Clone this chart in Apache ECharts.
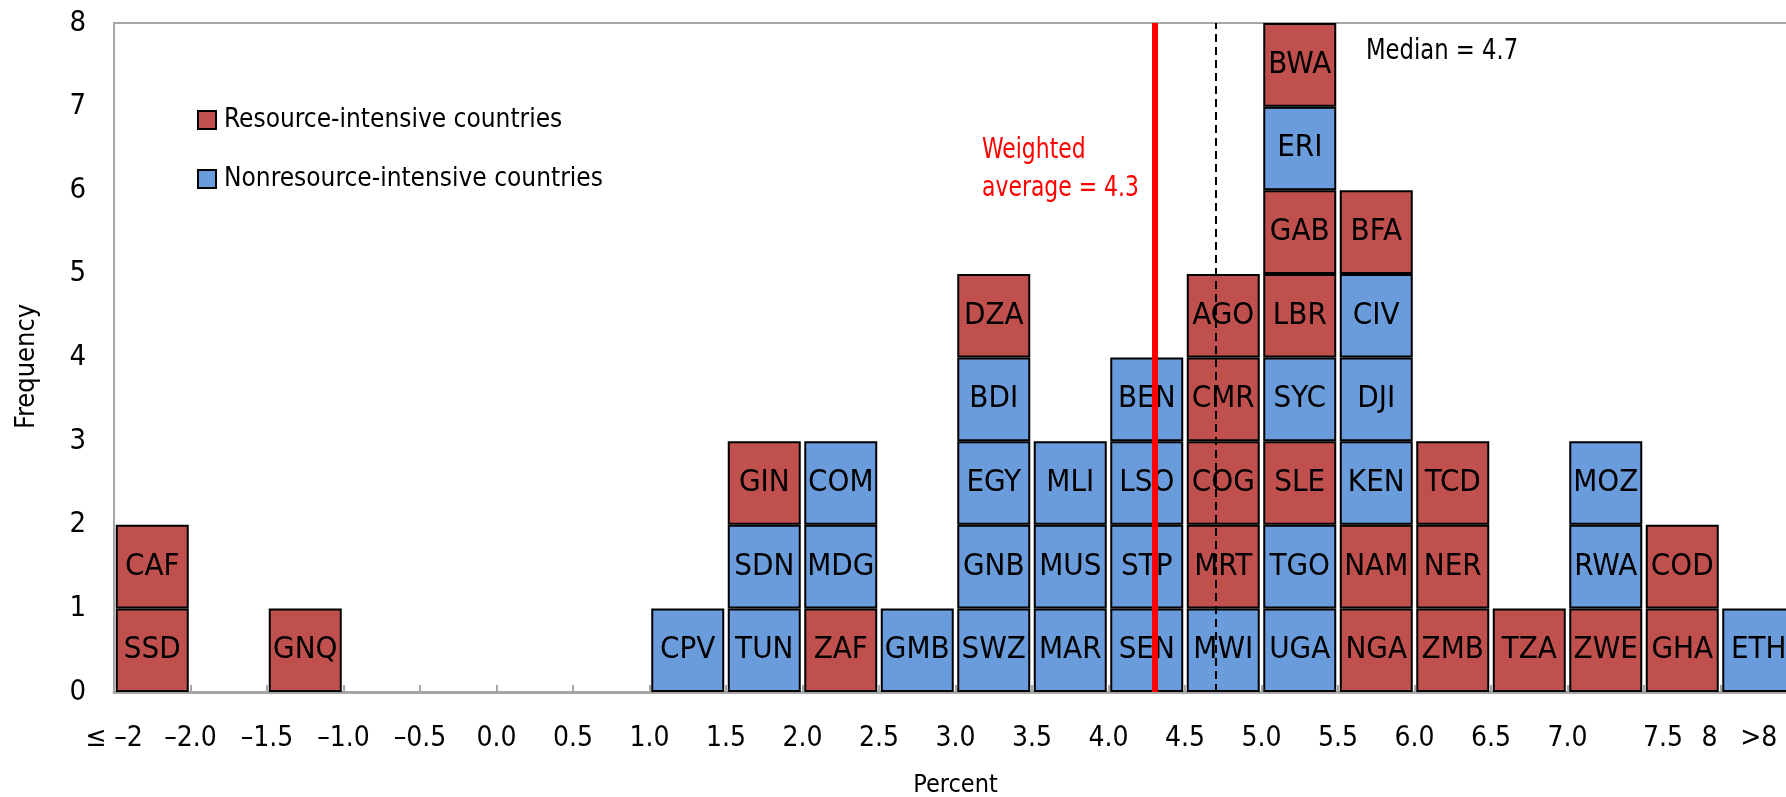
<!DOCTYPE html>
<html>
<head>
<meta charset="utf-8">
<script src="https://cdn.jsdelivr.net/npm/echarts@6/dist/echarts.min.js"></script>
<style>
  html, body { margin: 0; padding: 0; background: #fff; }
  #chart { width: 1786px; height: 797px; }
</style>
</head>
<body>
<div id="chart"></div>
<script>
// ---- data ----
const binLabels = ['≤ –2', '–2.0 to –1.5', '–1.5 to –1.0', '–1.0 to –0.5', '–0.5 to 0.0', '0.0 to 0.5',
  '0.5 to 1.0', '1.0 to 1.5', '1.5 to 2.0', '2.0 to 2.5', '2.5 to 3.0', '3.0 to 3.5', '3.5 to 4.0',
  '4.0 to 4.5', '4.5 to 5.0', '5.0 to 5.5', '5.5 to 6.0', '6.0 to 6.5', '6.5 to 7.0', '7.0 to 7.5',
  '7.5 to 8', '>8'];
// countries stacked in each bin, bottom to top
const binCountries = [
  ['SSD', 'CAF'], [], ['GNQ'], [], [], [], [], ['CPV'],
  ['TUN', 'SDN', 'GIN'], ['ZAF', 'MDG', 'COM'], ['GMB'],
  ['SWZ', 'GNB', 'EGY', 'BDI', 'DZA'], ['MAR', 'MUS', 'MLI'], ['SEN', 'STP', 'LSO', 'BEN'],
  ['MWI', 'MRT', 'COG', 'CMR', 'AGO'], ['UGA', 'TGO', 'SLE', 'SYC', 'LBR', 'GAB', 'ERI', 'BWA'],
  ['NGA', 'NAM', 'KEN', 'DJI', 'CIV', 'BFA'], ['ZMB', 'NER', 'TCD'], ['TZA'],
  ['ZWE', 'RWA', 'MOZ'], ['GHA', 'COD'], ['ETH']
];
const resourceIntensive = ['SSD', 'CAF', 'GNQ', 'GIN', 'ZAF', 'DZA', 'MRT', 'COG', 'CMR', 'AGO',
  'SLE', 'LBR', 'GAB', 'BWA', 'NGA', 'NAM', 'BFA', 'ZMB', 'NER', 'TCD', 'TZA', 'ZWE', 'GHA', 'COD'];
// tick labels at bin edges (percent -2.5 ... 8.5 step 0.5)
const tickLabels = ['≤ –2', '–2.0', '–1.5', '–1.0', '–0.5', '0.0', '0.5', '1.0', '1.5', '2.0', '2.5',
  '3.0', '3.5', '4.0', '4.5', '5.0', '5.5', '6.0', '6.5', '7.0', '7.5', '8', ''];
const lastBinLabel = '>8';
const yTicks = [0, 1, 2, 3, 4, 5, 6, 7, 8];
const weightedAverage = 4.3;
const median = 4.7;
const groupNames = ['Resource-intensive countries', 'Nonresource-intensive countries'];

// ---- style ----
const FONT = "'Liberation Sans Narrow', 'Arial Narrow', 'DejaVu Sans Condensed', 'Roboto Condensed', sans-serif";
const RED = '#C0504D';
const BLUE = '#6A9BDB';
const AXIS_GRAY = '#A6A6A6';
const BAR_W = 73;

const maxLevel = Math.max(...binCountries.map(b => b.length));
const series = [];
for (let k = 0; k < maxLevel; k++) {
  series.push({
    type: 'bar',
    name: 'level' + k,
    stack: 'all',
    xAxisIndex: 0,
    yAxisIndex: 0,
    barWidth: BAR_W,
    itemStyle: { borderColor: '#000', borderWidth: 2 },
    label: {
      show: true,
      position: 'inside',
      formatter: p => p.data.code,
      fontFamily: FONT,
      fontSize: 31,
      color: '#000'
    },
    data: binCountries.map(list => {
      const code = list[k];
      if (!code) return '-';
      return {
        value: 1,
        code: code,
        itemStyle: { color: resourceIntensive.includes(code) ? RED : BLUE }
      };
    }),
    z: 2
  });
}
// legend entries
[RED, BLUE].forEach((c, i) => {
  series.push({
    type: 'bar',
    name: groupNames[i],
    stack: 'all',
    barWidth: BAR_W,
    xAxisIndex: 0,
    yAxisIndex: 0,
    itemStyle: { color: c, borderColor: '#000', borderWidth: 2 },
    data: []
  });
});
// reference lines
series.push({
  type: 'line',
  name: 'refs',
  xAxisIndex: 1,
  yAxisIndex: 0,
  data: [],
  z: 10,
  markLine: {
    silent: true,
    symbol: 'none',
    label: { show: false },
    animation: false,
    data: [
      { xAxis: weightedAverage, lineStyle: { color: '#FF0000', width: 6, type: 'solid' } },
      { xAxis: median, lineStyle: { color: '#000', width: 2, type: [8, 5] } }
    ]
  }
});

const chart = echarts.init(document.getElementById('chart'), null, { renderer: 'canvas' });
chart.setOption({
  animation: false,
  backgroundColor: '#fff',
  textStyle: { fontFamily: FONT },
  grid: {
    left: 114, right: -11, top: 23, bottom: 105,
    outerBoundsMode: 'none',
    containLabel: false,
    show: true, borderColor: AXIS_GRAY, borderWidth: 2, backgroundColor: 'transparent'
  },
  legend: {
    data: groupNames,
    orient: 'vertical',
    left: 192,
    top: 100,
    icon: 'rect',
    itemWidth: 18,
    itemHeight: 18,
    itemGap: 29,
    itemStyle: { borderColor: '#000', borderWidth: 2 },
    textStyle: { fontFamily: FONT, fontSize: 26, color: '#000', lineHeight: 30, padding: [0, 0, 0, 3] },
    selectedMode: false
  },
  xAxis: [
    {
      type: 'category',
      data: binLabels,
      boundaryGap: true,
      position: 'bottom',
      axisLine: { show: false },
      axisTick: { show: false },
      splitLine: { show: false },
      axisLabel: {
        interval: 0,
        margin: 33,
        fontFamily: FONT,
        fontSize: 28,
        color: '#000',
        formatter: (v, i) => (i === binLabels.length - 1 ? lastBinLabel : '')
      }
    },
    {
      type: 'value',
      min: -2.5,
      max: 8.5,
      interval: 0.5,
      position: 'bottom',
      name: 'Percent',
      nameLocation: 'middle',
      nameGap: 81,
      nameTextStyle: { fontFamily: FONT, fontSize: 25, color: '#000' },
      axisLine: { show: true, onZero: false, lineStyle: { color: AXIS_GRAY, width: 3 } },
      axisTick: { show: true, inside: true, length: 7, lineStyle: { color: AXIS_GRAY, width: 2 } },
      splitLine: { show: false },
      axisLabel: {
        margin: 33,
        fontFamily: FONT,
        fontSize: 28,
        color: '#000',
        showMinLabel: true,
        showMaxLabel: true,
        formatter: v => {
          const i = Math.round((v + 2.5) * 2);
          const t = tickLabels[i] || '';
          if (i === 20) return '{r|' + t + '}';
          if (i === 21) return '{l|' + t + '}';
          return t;
        },
        rich: {
          r: { fontFamily: FONT, fontSize: 28, color: '#000', padding: [0, 0, 0, 38] },
          l: { fontFamily: FONT, fontSize: 28, color: '#000', padding: [0, 22, 0, 0] }
        }
      }
    }
  ],
  yAxis: {
    type: 'value',
    min: yTicks[0],
    max: yTicks[yTicks.length - 1],
    interval: 1,
    name: 'Frequency',
    nameLocation: 'middle',
    nameGap: 74,
    nameRotate: 90,
    nameTextStyle: { fontFamily: FONT, fontSize: 27, color: '#000', padding: [0, 18, 0, 0] },
    axisLine: { show: true, onZero: false, lineStyle: { color: AXIS_GRAY, width: 2 } },
    axisTick: { show: false },
    splitLine: { show: false },
    axisLabel: { margin: 28, fontFamily: FONT, fontSize: 29, color: '#000' }
  },
  graphic: [
    {
      type: 'text',
      left: 982,
      top: 131,
      z: 20,
      scaleX: 0.84,
      style: {
        text: 'Weighted\naverage = ' + weightedAverage.toFixed(1),
        fontFamily: FONT,
        fontSize: 29,
        lineHeight: 38,
        fill: '#FF0000'
      }
    },
    {
      type: 'text',
      left: 1366,
      top: 34,
      z: 20,
      scaleX: 0.87,
      style: {
        text: 'Median = ' + median.toFixed(1),
        fontFamily: FONT,
        fontSize: 29,
        lineHeight: 34,
        fill: '#000'
      }
    }
  ],
  series: series
});
</script>
</body>
</html>
